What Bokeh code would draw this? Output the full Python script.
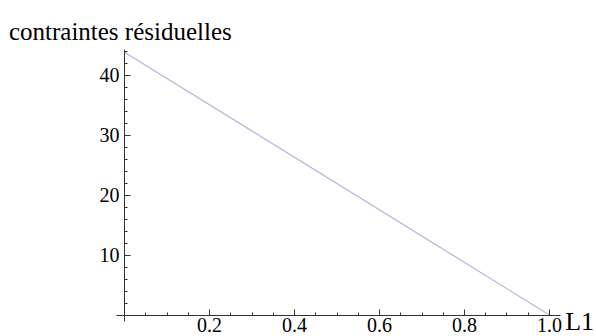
from bokeh.plotting import figure
from bokeh.models import LinearAxis, FixedTicker, Range1d, Label, PrintfTickFormatter
from bokeh.embed import file_html
from bokeh.resources import INLINE

# data
L1 = [0.0, 1.0]
contraintes = [43.8, 0.0]
x_ticks = [0.2, 0.4, 0.6, 0.8, 1.0]
x_minor = [round(0.05 * i, 2) for i in range(1, 21)]
y_ticks = [10, 20, 30, 40]
y_minor = [2 * i for i in range(1, 23)]

FONT = "Liberation Serif"

p = figure(width=596, height=336, output_backend="svg", toolbar_location=None,
           x_range=Range1d(-0.2918, 1.1106), y_range=Range1d(-3.583, 52.42),
           x_axis_type=None, y_axis_type=None,
           min_border_left=0, min_border_right=0, min_border_top=0, min_border_bottom=0)
p.outline_line_color = None
p.xgrid.visible = False
p.ygrid.visible = False
p.background_fill_color = "white"
p.border_fill_color = "white"

p.line(L1, contraintes, line_color="#b4b4dc", line_width=1.2)

xa = LinearAxis(fixed_location=0, ticker=FixedTicker(ticks=x_ticks, minor_ticks=x_minor),
                formatter=PrintfTickFormatter(format="%.1f"))
xa.bounds = (-0.02, 1.026)
ya = LinearAxis(fixed_location=0, ticker=FixedTicker(ticks=y_ticks, minor_ticks=y_minor))
ya.bounds = (-1.0, 44.3)
for ax in (xa, ya):
    ax.axis_line_color = "#333333"
    ax.major_tick_line_color = "#333333"
    ax.minor_tick_line_color = "#333333"
    ax.major_tick_in = 6
    ax.major_tick_out = 0
    ax.minor_tick_in = 3
    ax.minor_tick_out = 0
    ax.major_label_text_font = FONT
    ax.major_label_text_font_size = "20px"
    ax.major_label_text_color = "black"
xa.major_label_standoff = 3
ya.major_label_standoff = 5
p.add_layout(xa, "below")
p.add_layout(ya, "left")

p.add_layout(Label(x=-0.272, y=47.25, text="contraintes résiduelles", text_font=FONT,
                   text_font_size="25px", text_color="black", text_baseline="alphabetic"))
p.add_layout(Label(x=1.037, y=-1.08, text="L1", text_font=FONT, text_font_size="26px",
                   text_color="black", text_baseline="alphabetic"))

open("out.html", "w").write(file_html(p, INLINE))
